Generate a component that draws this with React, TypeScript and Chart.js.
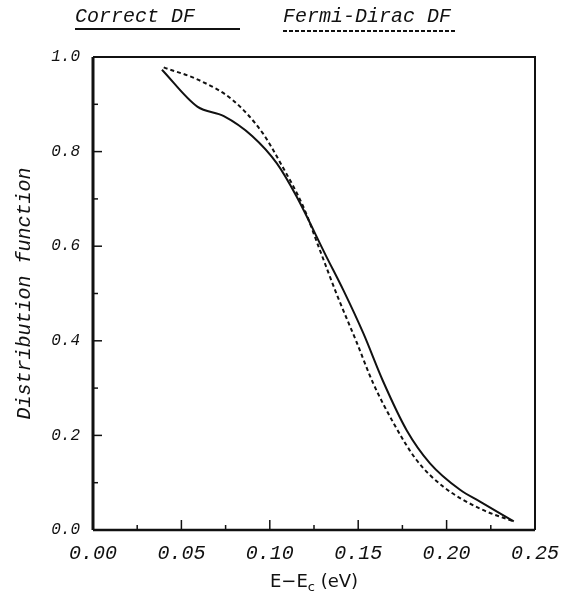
import React, { useEffect, useRef } from "react";
import { Chart, registerables } from "chart.js";

Chart.register(...registerables);

// Correct distribution function (solid)
const correctE = [0.039, 0.059, 0.074, 0.090, 0.104, 0.115, 0.132, 0.1416, 0.153, 0.164, 0.1774, 0.1906, 0.2076, 0.2189, 0.238];
const correctF = [0.973, 0.895, 0.875, 0.833, 0.775, 0.706, 0.578, 0.507, 0.415, 0.315, 0.211, 0.141, 0.085, 0.060, 0.018];

// Fermi-Dirac distribution function (dashed)
const fermiE = [0.040, 0.060, 0.079, 0.096, 0.106, 0.119, 0.128, 0.138, 0.149, 0.1585, 0.170, 0.183, 0.198, 0.219, 0.238];
const fermiF = [0.978, 0.951, 0.909, 0.839, 0.776, 0.683, 0.595, 0.497, 0.398, 0.310, 0.226, 0.148, 0.092, 0.045, 0.018];

const seriesNames = ["Correct DF", "Fermi-Dirac DF"];
const xAxisTitle = ["E\u2212E", "c", " (eV)"];
const yAxisTitle = "Distribution function";

const MONO = "'Liberation Mono', 'Courier New', monospace";
const INK = "#111";

const frameAndTicks = {
  id: "frameAndTicks",
  afterDatasetsDraw(chart: any) {
    const { ctx, chartArea, scales } = chart;
    const { left, right, top, bottom } = chartArea;
    const xs = scales.x;
    const ys = scales.y;
    ctx.save();
    ctx.strokeStyle = INK;
    ctx.lineWidth = 1.5;
    xs.ticks.forEach((t: any) => {
      const px = xs.getPixelForValue(t.value);
      const r = t.value / 0.05;
      const major = Math.abs(r - Math.round(r)) < 1e-6;
      const len = major ? 10 : 5;
      ctx.beginPath();
      ctx.moveTo(px, bottom);
      ctx.lineTo(px, bottom - len);
      ctx.stroke();
    });
    ys.ticks.forEach((t: any) => {
      const py = ys.getPixelForValue(t.value);
      const r = t.value / 0.2;
      const major = Math.abs(r - Math.round(r)) < 1e-6;
      const len = major ? 9 : 5;
      ctx.beginPath();
      ctx.moveTo(left, py);
      ctx.lineTo(left + len, py);
      ctx.stroke();
    });
    // frame
    ctx.lineWidth = 2;
    ctx.beginPath();
    ctx.moveTo(left, top);
    ctx.lineTo(right, top);
    ctx.lineTo(right, bottom);
    ctx.stroke();
    ctx.lineWidth = 2.5;
    ctx.beginPath();
    ctx.moveTo(right, bottom);
    ctx.lineTo(left, bottom);
    ctx.stroke();
    ctx.lineWidth = 3;
    ctx.beginPath();
    ctx.moveTo(left, bottom);
    ctx.lineTo(left, top);
    ctx.stroke();

    // x axis title with subscript
    const cx = (left + right) / 2;
    const ty = bottom + 50;
    ctx.fillStyle = INK;
    ctx.textBaseline = "alphabetic";
    const mainFont = "18px 'DejaVu Sans', sans-serif";
    const subFont = "13px 'DejaVu Sans', sans-serif";
    ctx.font = mainFont;
    const w0 = ctx.measureText(xAxisTitle[0]).width;
    const w2 = ctx.measureText(xAxisTitle[2]).width;
    ctx.font = subFont;
    const w1 = ctx.measureText(xAxisTitle[1]).width;
    const total = w0 + w1 + w2;
    let x0 = cx - total / 2;
    ctx.font = mainFont;
    ctx.fillText(xAxisTitle[0], x0, ty + 7);
    x0 += w0;
    ctx.font = subFont;
    ctx.fillText(xAxisTitle[1], x0, ty + 11);
    x0 += w1;
    ctx.font = mainFont;
    ctx.fillText(xAxisTitle[2], x0, ty + 7);

    // legend
    ctx.font = "italic 20px " + MONO;
    ctx.textBaseline = "middle";
    ctx.textAlign = "left";
    ctx.fillText(seriesNames[0], 75, 17);
    ctx.fillText(seriesNames[1], 283, 17);
    ctx.lineWidth = 2;
    ctx.beginPath();
    ctx.moveTo(75, 29);
    ctx.lineTo(240, 29);
    ctx.stroke();
    ctx.setLineDash([4, 2]);
    ctx.beginPath();
    ctx.moveTo(283, 31);
    ctx.lineTo(457, 31);
    ctx.stroke();
    ctx.restore();
  },
};

export default function App() {
  const ref = useRef<HTMLCanvasElement | null>(null);
  useEffect(() => {
    if (!ref.current) return;
    const chart = new Chart(ref.current, {
      type: "line",
      data: {
        datasets: [
          {
            label: seriesNames[0],
            data: correctE.map((e, i) => ({ x: e, y: correctF[i] })),
            borderColor: INK,
            borderWidth: 2,
            pointRadius: 0,
            cubicInterpolationMode: "monotone",
            fill: false,
          },
          {
            label: seriesNames[1],
            data: fermiE.map((e, i) => ({ x: e, y: fermiF[i] })),
            borderColor: INK,
            borderWidth: 2,
            borderDash: [4, 3],
            pointRadius: 0,
            cubicInterpolationMode: "monotone",
            fill: false,
          },
        ],
      },
      options: {
        responsive: false,
        animation: false,
        layout: { padding: { left: 0, right: 43, top: 57, bottom: 0 } },
        plugins: {
          legend: { display: false },
          tooltip: { enabled: false },
        },
        scales: {
          x: {
            type: "linear",
            min: 0,
            max: 0.25,
            border: { display: false },
            grid: { display: false, drawTicks: false },
            ticks: {
              stepSize: 0.025,
              padding: 12,
              maxRotation: 0,
              autoSkip: false,
              color: INK,
              font: { family: MONO, size: 20, style: "italic" },
              callback: (v: any) => {
                const r = v / 0.05;
                return Math.abs(r - Math.round(r)) < 1e-6 ? Number(v).toFixed(2) : "";
              },
            },
            afterFit: (s: any) => {
              s.height = 63;
              s.paddingLeft = 0;
              s.paddingRight = 0;
            },
          },
          y: {
            type: "linear",
            min: 0,
            max: 1,
            border: { display: false },
            grid: { display: false, drawTicks: false },
            title: {
              display: true,
              text: yAxisTitle,
              color: INK,
              font: { family: MONO, size: 20, style: "italic" },
              padding: { top: 13, bottom: 0 },
            },
            ticks: {
              stepSize: 0.1,
              padding: 13,
              autoSkip: false,
              color: INK,
              font: { family: MONO, size: 16, style: "italic" },
              callback: (v: any) => {
                const r = v / 0.2;
                return Math.abs(r - Math.round(r)) < 1e-6 ? Number(v).toFixed(1) : "";
              },
            },
            afterFit: (s: any) => {
              s.width = 93;
              s.paddingTop = 0;
              s.paddingBottom = 0;
            },
          },
        },
      },
      plugins: [frameAndTicks],
    });
    return () => chart.destroy();
  }, []);
  return (
    <div style={{ position: "absolute", left: 0, top: 0, width: 578, height: 593, background: "#fff" }}>
      <canvas ref={ref} width={578} height={593} style={{ display: "block" }} />
    </div>
  );
}
